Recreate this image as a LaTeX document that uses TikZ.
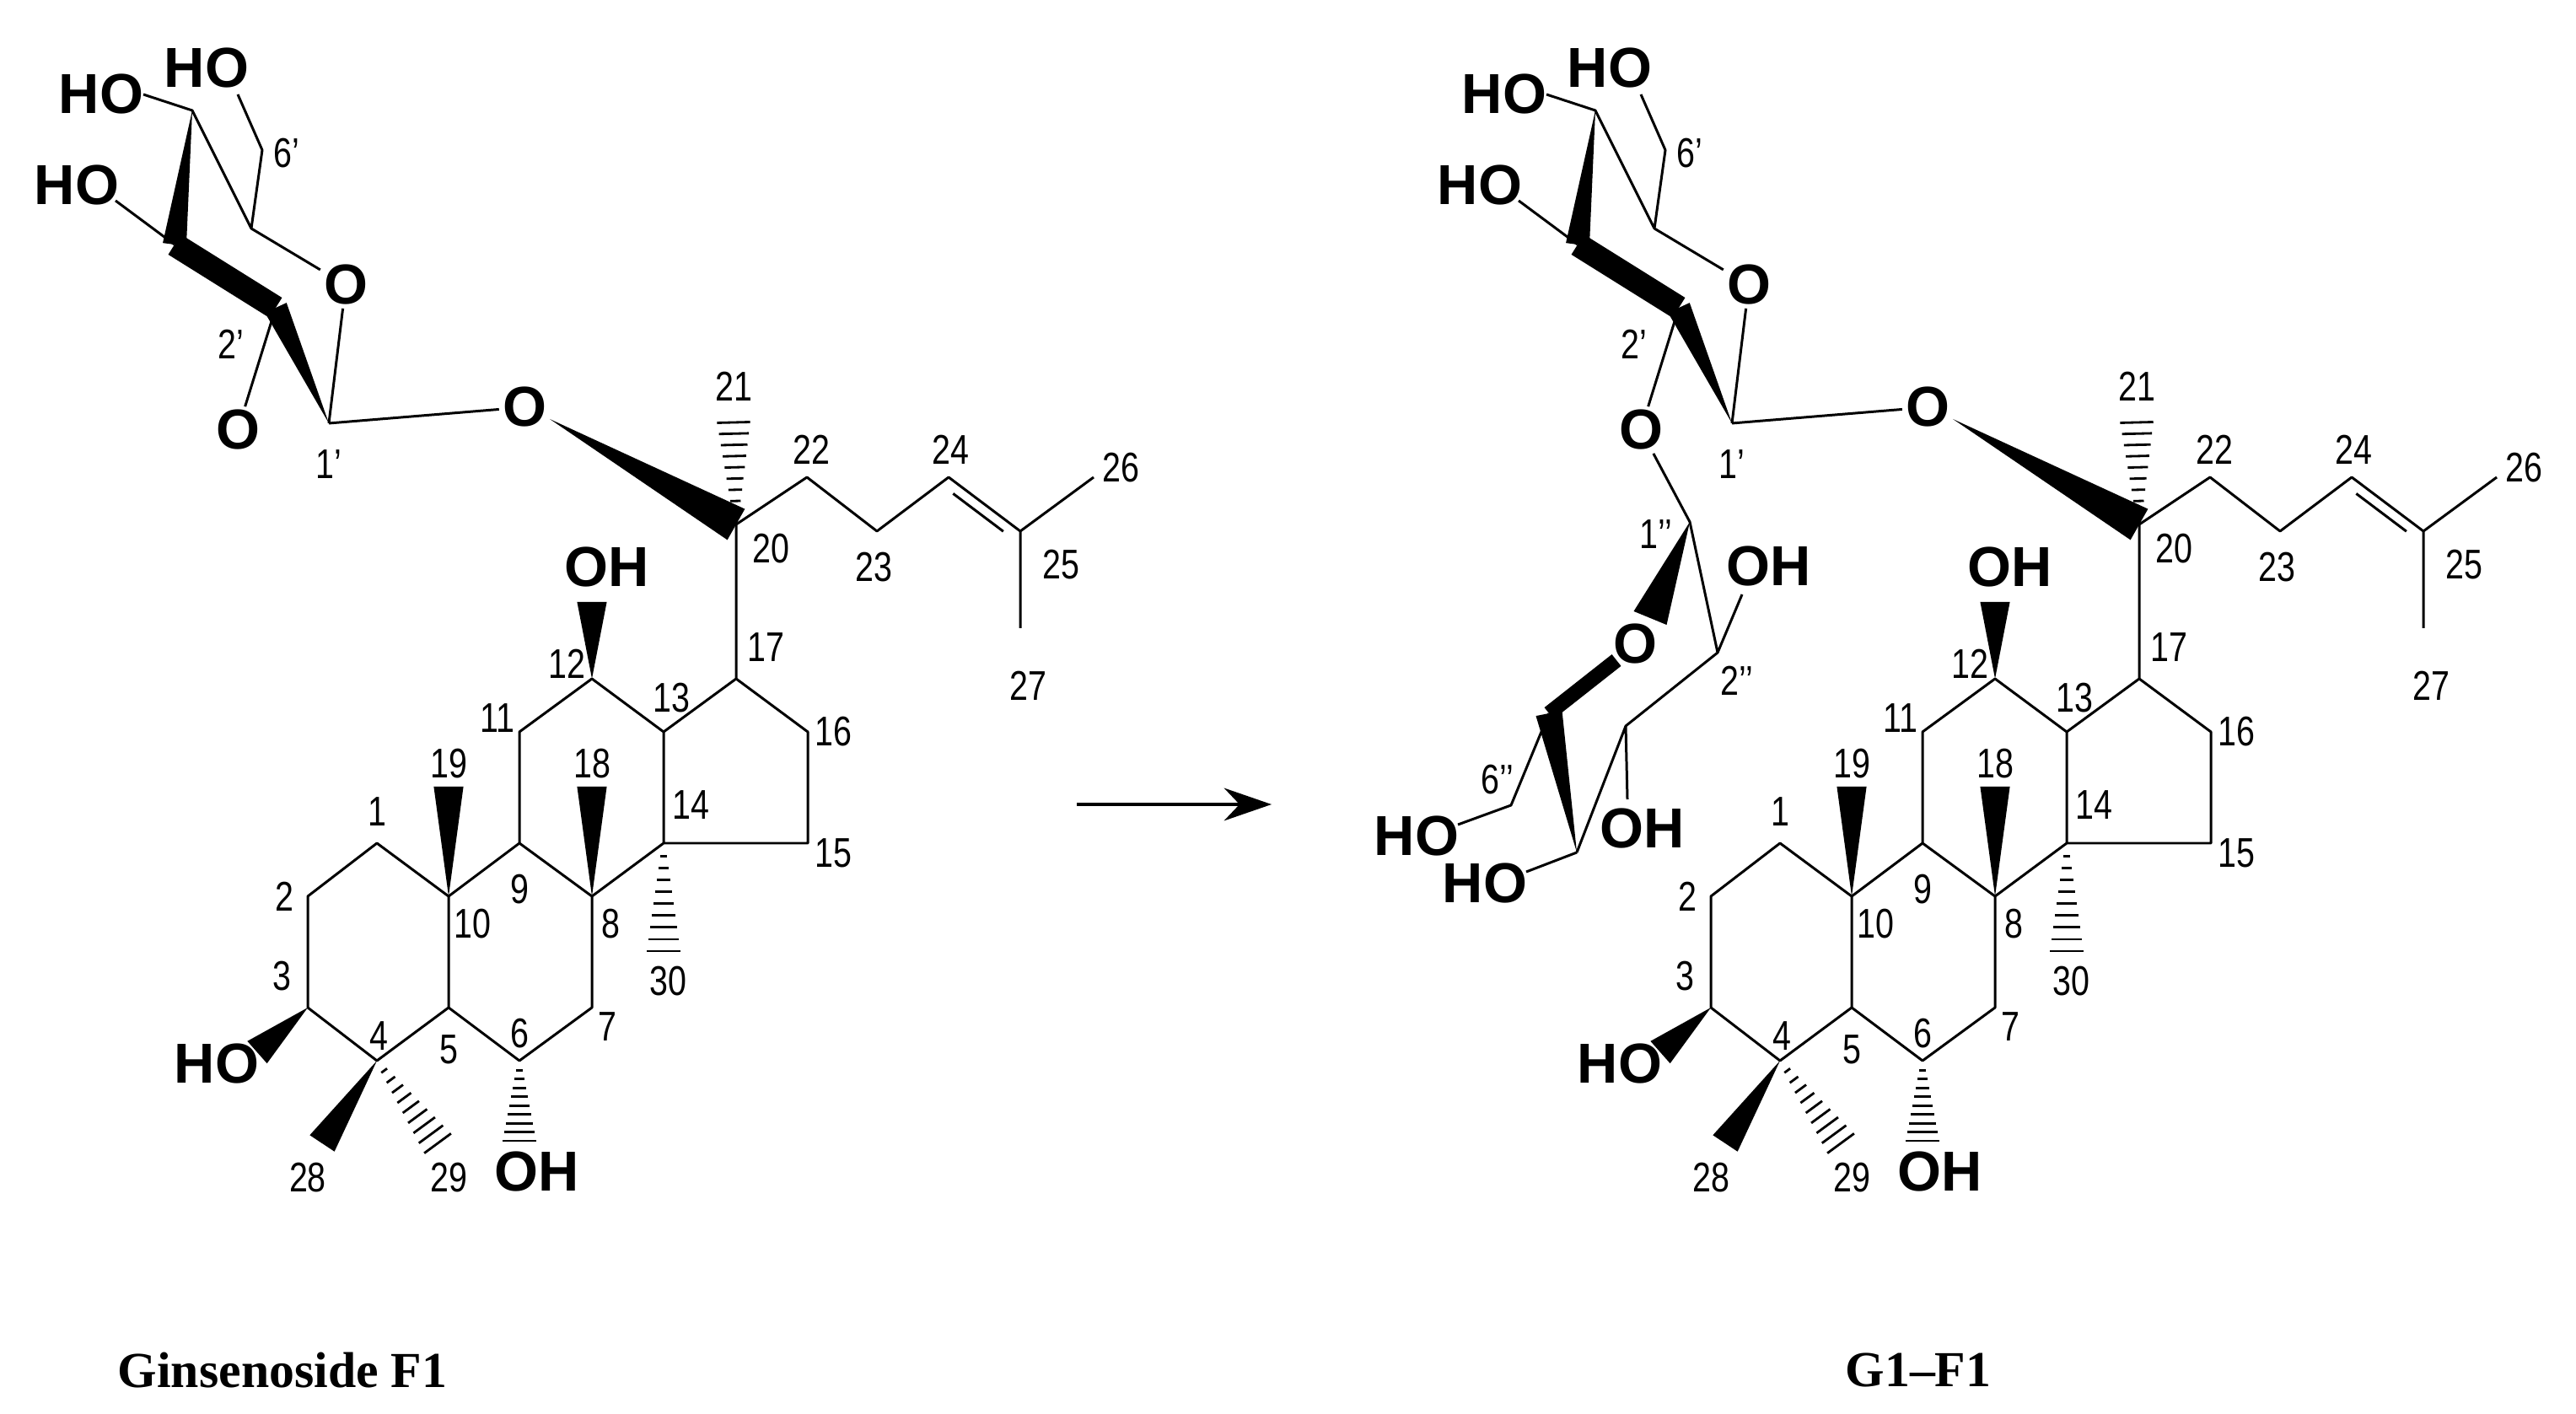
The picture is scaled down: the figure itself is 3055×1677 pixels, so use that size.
\documentclass[tikz,border=0pt]{standalone}
\usepackage{fontspec}
\setmainfont{Liberation Serif}
\setsansfont{Liberation Sans}
\usetikzlibrary{calc,arrows.meta}
\newcommand\pr{\char"27\relax}
\newcommand\wdg[3]{\fill (#1) -- ($(#2)!#3!90:(#1)$) -- ($(#2)!#3!-90:(#1)$) -- cycle;}
\newcommand\hsh[3]{\foreach \t in {0.12,0.23,...,1.0}{\pgfmathsetmacro\w{0.6+#3*\t}
 \coordinate (hP) at ($(#1)!\t!(#2)$);
 \draw[line width=0.8pt] ($(hP)!\w pt!90:(#1)$) -- ($(hP)!\w pt!-90:(#1)$);}}
\newcommand\molecule{%
 \coordinate (C1) at (447,1000); \coordinate (C2) at (365,1063); \coordinate (C3) at (365,1195);
 \coordinate (C4) at (447,1258); \coordinate (C5) at (532,1195); \coordinate (C10) at (532,1063);
 \coordinate (C9) at (616,1000); \coordinate (C8) at (702,1063); \coordinate (C7) at (702,1195);
 \coordinate (C6) at (616,1258); \coordinate (C11) at (616,868); \coordinate (C12) at (702,805);
 \coordinate (C13) at (787,868); \coordinate (C14) at (787,1000); \coordinate (C15) at (958,1000);
 \coordinate (C16) at (958,868); \coordinate (C17) at (873,805); \coordinate (C20) at (873,622);
 \coordinate (C19) at (532,933); \coordinate (C18) at (702,933); \coordinate (C30) at (787,1128);
 \coordinate (O12) at (702,714); \coordinate (O3) at (305,1248); \coordinate (C28) at (382,1356);
 \coordinate (C29) at (519,1356); \coordinate (O6) at (616,1353);
 \coordinate (C21) at (870,501); \coordinate (C22) at (957,566); \coordinate (C23) at (1040,630);
 \coordinate (C24) at (1125,566); \coordinate (C25) at (1210,630); \coordinate (C26) at (1297,566);
 \coordinate (C27) at (1210,745);
 \draw[bond] (C1)--(C2)--(C3)--(C4)--(C5)--(C10)--cycle (C10)--(C9)--(C8)--(C7)--(C6)--(C5)
   (C9)--(C11)--(C12)--(C13)--(C14)--(C8) (C13)--(C17)--(C16)--(C15)--(C14) (C17)--(C20)
   (C20)--(C22)--(C23)--(C24)--(C25)--(C26) (C25)--(C27);
 \coordinate (DA) at ($(C24)!0.15!(C25)$); \coordinate (DB) at ($(C25)!0.15!(C24)$);
 \draw[bond] ($(DA)!3.5pt!-90:(C25)$) -- ($(DB)!3.5pt!90:(C24)$);
 \wdg{C10}{C19}{5pt} \wdg{C8}{C18}{5pt} \wdg{C12}{O12}{5pt} \wdg{C3}{O3}{5pt} \wdg{C4}{C28}{5pt}
 \hsh{C14}{C30}{5} \hsh{C4}{C29}{5} \hsh{C6}{O6}{5} \hsh{C20}{C21}{5}
 \node[atom] at (720,673) {OH}; \node[atom] at (257,1261) {HO}; \node[atom] at (637,1389) {OH};
 \foreach \px/\py/\s in {447/963/1,337/1063/2,334/1158/3,449/1229/4,532/1245/5,616/1226/6,720/1218/7,
   724/1096/8,616/1055/9,560/1096/10,590/852/11,672/787/12,796/828/13,819/955/14,988/1012/15,
   988/868/16,908/768/17,702/906/18,532/906/19,914/651/20,1036/673/23,365/1397/28,532/1397/29,
   792/1164/30,870/458/21,962/533/22,1127/533/24,1329/555/26,1219/813/27,1258/670/25}
   {\node[num] at (\px,\py) {\s};}
 \node[atom] (Og) at (622,483) {O}; \coordinate (Ogw) at (652,497);
 \coordinate (C1p) at (390,502); \node[atom] (Or) at (410,338) {O};
 \coordinate (C5p) at (298,271); \coordinate (C6p) at (311,178); \coordinate (H6) at (282,112);
 \coordinate (C4p) at (228,131); \coordinate (H4) at (170,112); \coordinate (C3p) at (207,290);
 \coordinate (H3) at (137,238); \coordinate (C2p) at (327,365); \node[atom] (O2p) at (282,510) {O};
 \draw[bond] (C1p)--(Og) (C1p)--(Or) (Or)--(C5p)--(C6p)--(H6) (C5p)--(C4p)--(H4) (C3p)--(H3)
   (C2p)--(O2p);
 \wdg{Ogw}{C20}{6pt}
 \wdg{C4p}{C3p}{4pt} \draw[line width=8pt] (C3p)--(C2p); \wdg{C1p}{C2p}{4pt}
 \node[atom] at (245,81) {HO}; \node[atom] at (120,112) {HO}; \node[atom] at (91,220) {HO};
 \node[num] at (340,182) {6\pr}; \node[num] at (274,408) {2\pr}; \node[num] at (390,551) {1\pr};
}
\begin{document}
\begin{tikzpicture}[x=0.01cm,y=-0.01cm,
  bond/.style={line width=0.85pt,line join=round},
  atom/.style={font=\sffamily\bfseries\fontsize{19}{19}\selectfont,inner sep=1pt},
  num/.style={font=\sffamily\fontsize{14}{14}\selectfont,xscale=0.8,inner sep=0pt}]
\useasboundingbox (0,0) rectangle (3055,1677);
\begin{scope}[name prefix=L-]\molecule\end{scope}
\begin{scope}[shift={(1664,0)},name prefix=R-]\molecule\end{scope}
\coordinate (S1) at (2004,619); \node[atom] (SO) at (1939,764) {O}; \coordinate (SOw) at (1957,733);
\coordinate (S2) at (2037,774); \coordinate (S3) at (1928,861); \coordinate (S4) at (1870,1011);
\coordinate (S5) at (1837,846); \coordinate (S6) at (1792,955);
\coordinate (SH2) at (2066,705); \coordinate (SH3) at (1930,948); \coordinate (SH6) at (1729,978);
\coordinate (SH4) at (1810,1034);
\draw[bond] (R-O2p)--(S1)--(S2)--(S3)--(S4) (S2)--(SH2) (S3)--(SH3) (S5)--(S6)--(SH6) (S4)--(SH4);
\wdg{S1}{SOw}{6pt}
\draw[line width=5pt] (S5)--(1917,783);
\wdg{S4}{S5}{4.5pt}
\node[atom] at (2098,672) {OH}; \node[atom] at (1948,983) {OH};
\node[atom] at (1680,991) {HO}; \node[atom] at (1761,1047) {HO};
\node[num] at (1964,634) {1\pr\pr}; \node[num] at (2060,807) {2\pr\pr}; \node[num] at (1776,925) {6\pr\pr};
\coordinate (A1) at (1277,954); \coordinate (A2) at (1508,954);
\draw[line width=1.1pt,-{Stealth[length=16pt,width=11pt]}] (A1)--(A2);
\node[font=\bfseries\fontsize{17}{17}\selectfont] at (335,1625) {Ginsenoside F1};
\node[font=\bfseries\fontsize{17}{17}\selectfont] at (2275,1625) {G1–F1};
\end{tikzpicture}
\end{document}
